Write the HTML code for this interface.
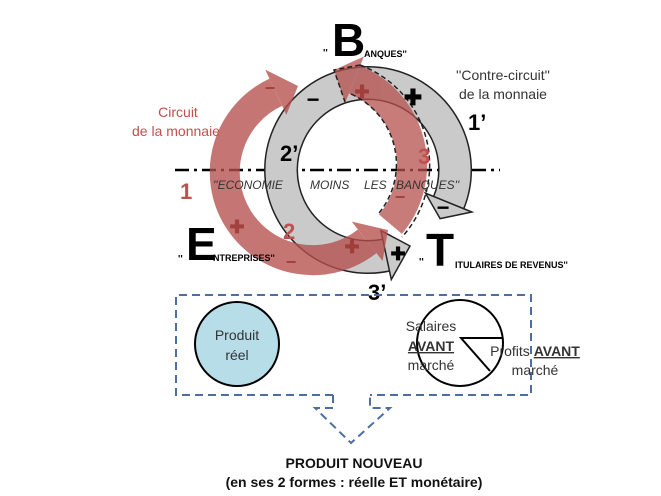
<!DOCTYPE html>
<html><head><meta charset="utf-8"><style>
html,body{margin:0;padding:0;background:#fff}
svg{display:block;font-family:"Liberation Sans",sans-serif}
</style></head><body>
<svg width="661" height="496" viewBox="0 0 661 496">
<!-- dot-dash line -->
<line x1="175" y1="170" x2="500" y2="170" stroke="#000" stroke-width="2.5" stroke-dasharray="14 5 3 5"/>
<!-- grey ring -->
<path d="M 386.1 255.1 A 87 87 0 1 1 448.7 202.6" fill="none" stroke="#222" stroke-width="34"/>
<path d="M 386.1 255.1 A 87 87 0 1 1 448.7 202.6" fill="none" stroke="#cacaca" stroke-width="31"/>
<polygon points="471.8,212 425.5,193.2 440.1,218.6" fill="#cacaca" stroke="#222" stroke-width="1.5"/>
<polygon points="391.3,279.5 380.9,230.6 410,246" fill="#cacaca" stroke="#222" stroke-width="1.5"/>
<!-- red ring -->
<g opacity="0.78" transform="translate(8,2)">
<path d="M 359.2 239.3 A 88 88 0 1 1 267.8 90.3" fill="none" stroke="#b5504d" stroke-width="30"/>
<polygon points="374.6,259 343.8,219.6 380,228" fill="#b5504d"/>
<polygon points="257.2,67.6 278.4,112.9 290,84" fill="#b5504d"/>
</g>
<!-- dashed red arrow 3 -->
<g opacity="0.75">
<path d="M 354.5 79.7 A 92 92 0 0 1 390.5 224.2" fill="none" stroke="#b5504d" stroke-width="30"/>
<polygon points="363.9,56.5 345.1,102.9 334,70" fill="#b5504d"/>
</g>
<path d="M 360 65 A 107 107 0 0 1 402 237 M 351 94 A 77 77 0 0 1 379 213" fill="none" stroke="#222" stroke-width="1.5" stroke-dasharray="5 3"/>
<polyline points="360,65 334,70 345,102" fill="none" stroke="#222" stroke-width="1.5" stroke-dasharray="5 3"/>
<!-- labels -->
<g font-size="14" fill="#c0504d">
<text x="178" y="117" text-anchor="middle">Circuit</text>
<text x="176" y="136" text-anchor="middle">de la monnaie</text>
</g>
<g font-size="14" fill="#333">
<text x="503" y="80" text-anchor="middle">''Contre-circuit''</text>
<text x="503" y="99" text-anchor="middle">de la monnaie</text>
</g>
<g font-weight="bold" font-size="22">
<text x="468" y="130">1’</text>
<text x="280" y="161">2’</text>
<text x="368" y="300">3’</text>
<text x="418" y="164" fill="#c0504d">3</text>
<text x="180" y="199" fill="#c0504d">1</text>
<text x="283" y="239" fill="#c0504d">2</text>
</g>
<g font-size="12" font-style="italic" fill="#333">
<text x="213" y="189">''ECONOMIE</text>
<text x="310" y="189">MOINS</text>
<text x="364" y="189">LES</text>
<text x="396" y="189">BANQUES''</text>
</g>
<g font-weight="bold">
<text x="332" y="56" font-size="46">B</text>
<text x="323" y="56" font-size="10">''</text>
<text x="364" y="57" font-size="9">ANQUES''</text>
<text x="186" y="260" font-size="46">E</text>
<text x="178" y="262" font-size="10">''</text>
<text x="213" y="261" font-size="9">NTREPRISES''</text>
<text x="426" y="266" font-size="46">T</text>
<text x="419" y="265" font-size="10">''</text>
<text x="455" y="268" font-size="9">ITULAIRES DE REVENUS''</text>
</g>
<g font-weight="bold" font-size="22" text-anchor="middle">
<text x="313" y="107">−</text>
<text x="413" y="105">✚</text>
<text x="443" y="215">−</text>
<text x="398" y="260" font-size="18">✚</text>
</g>
<g font-weight="bold" font-size="18" text-anchor="middle" fill="#9a3432" opacity="0.8">
<text x="270" y="94">−</text>
<text x="362" y="98">✚</text>
<text x="237" y="233">✚</text>
<text x="291" y="268">−</text>
<text x="352" y="253">✚</text>
<text x="400" y="203">−</text>
</g>
<!-- bottom box -->
<path d="M 333 395 L 176 395 L 176 295 L 531 295 L 531 395 L 370 395" fill="none" stroke="#4a6fa0" stroke-width="2" stroke-dasharray="8 5"/>
<path d="M 333 395 L 333 408 L 315 408 L 351 443 L 390 408 L 370 408 L 370 395" fill="none" stroke="#4a6fa0" stroke-width="2" stroke-dasharray="8 5"/>
<circle cx="237" cy="344" r="42" fill="#b7dde8" stroke="#000" stroke-width="2"/>
<g font-size="14" fill="#333" text-anchor="middle">
<text x="237" y="340">Produit</text>
<text x="237" y="360">réel</text>
</g>
<circle cx="460" cy="343" r="43" fill="#fff" stroke="#000" stroke-width="2"/>
<polyline points="502,338 461,338 490,371" fill="none" stroke="#000" stroke-width="2"/>
<g font-size="14" fill="#333" text-anchor="middle">
<text x="431" y="331">Salaires</text>
<text x="431" y="351" font-weight="bold" text-decoration="underline">AVANT</text>
<text x="431" y="370">marché</text>
<text x="535" y="356">Profits <tspan font-weight="bold" text-decoration="underline">AVANT</tspan></text>
<text x="535" y="375">marché</text>
</g>
<g font-size="14" font-weight="bold" fill="#111" text-anchor="middle">
<text x="354" y="468">PRODUIT NOUVEAU</text>
<text x="354" y="487">(en ses 2 formes : réelle ET monétaire)</text>
</g>
</svg>
</body></html>
